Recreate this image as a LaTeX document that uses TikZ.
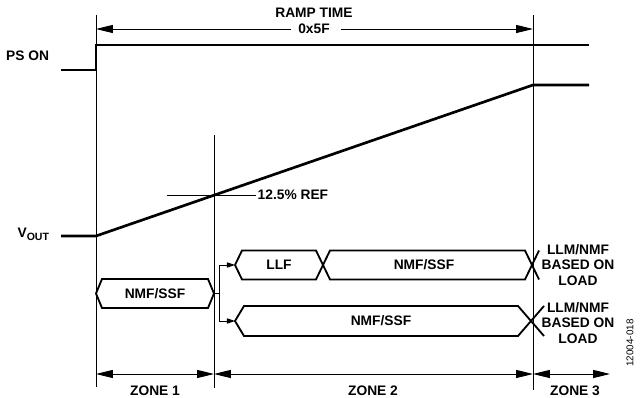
\documentclass[tikz,border=0pt]{standalone}
\usepackage{fontspec}
\setmainfont{Liberation Sans}
\usepackage{tikz}
\usetikzlibrary{arrows.meta}
\usetikzlibrary{calc}
\usetikzlibrary{positioning}

\begin{document}
\begin{tikzpicture}[x=0.025cm, y=-0.025cm,
    font=\bfseries\fontsize{9.8}{10.8}\selectfont,
    guide/.style={line width=0.6pt},
    wave/.style={line width=1.9pt},
    bus/.style={line width=1.3pt, line join=miter},
    span/.style={line width=0.6pt,
      {Triangle[length=0.42cm, width=0.2cm]}-{Triangle[length=0.42cm, width=0.2cm]}},
    ramp/.style={line width=0.6pt, -{Triangle[length=0.42cm, width=0.2cm]}},
    fork/.style={line width=0.6pt, -{Triangle[length=0.2cm, width=0.13cm]}}]

    \useasboundingbox (0,0) rectangle (641,398);

    % zone boundaries
    \draw [guide] (96,15) -- (96,387);
    \draw [guide] (214,135) -- (214,388);
    \draw [guide] (533,15) -- (533,390);

    % ramp time
    \node (ramplbl) at (314,13) {RAMP TIME};
    \node (hexlbl) at (314,29) {0x5F};
    \coordinate (rampstart) at (96,29);
    \coordinate (rampend) at (533,29);
    \draw [ramp] ([xshift=-0.05cm]hexlbl.west) -- (rampstart);
    \draw [ramp] ([xshift=0.15cm]hexlbl.east) -- (rampend);

    % waveforms
    \node [anchor=east] (pson) at (54,56) {PS ON};
    \draw [wave] (61,70) -- (96,70) -- (96,45) -- (589,45);
    \node [anchor=east] (vout) at (54,234)
      {V\raisebox{-0.45ex}{\fontsize{7.5}{8}\selectfont OUT}};
    \draw [wave] (61,236) -- (96,236) -- (533,85) -- (589,85);
    \draw [guide] (167,195) -- (256,195) coordinate (refend);
    \node [anchor=west, inner sep=1pt] (ref) at (refend) {12.5\% REF};

    % zone 1 state
    \draw [bus] (96,293.5) -- (102,279) -- (208,279) -- (214,293.5)
      -- (208,308) -- (102,308) -- cycle;
    \node (nmfa) at (155,293.5) {NMF/SSF};
    \coordinate (z1east) at (214,293.5);

    % zone 2 states, upper path
    \draw [bus] (235,265) -- (242,250.5) -- (316,250.5) -- (330,279.5)
      -- (525,279.5) -- (539,250.5);
    \draw [bus] (539,279.5) -- (525,250.5) -- (330,250.5) -- (316,279.5)
      -- (242,279.5) -- (235,265);
    \node (llf) at (279,265) {LLF};
    \node (nmfb) at (424,265) {NMF/SSF};
    \coordinate (llfwest) at (235,265);

    % zone 2 states, lower path
    \draw [bus] (544,306) -- (518,336) -- (244,336) -- (235,321)
      -- (244,306) -- (518,306) -- (544,336);
    \node (nmfc) at (381,321) {NMF/SSF};
    \coordinate (nmfwest) at (235,321);

    % branches
    \draw [fork] (z1east) -- ++(5,0) |- (llfwest);
    \draw [fork] (z1east) -- ++(5,0) |- (nmfwest);

    % zone 3 states
    \node [align=center] (loada) at (578,265) {LLM/NMF\\BASED ON\\LOAD};
    \node [align=center] (loadb) at (578,323) {LLM/NMF\\BASED ON\\LOAD};

    % zones
    \draw [span] (96,374) -- (214,374);
    \draw [span] (214,374) -- (533,374);
    \draw [span] (533,374) -- (610,374);
    \node (zone1) at (155,391) {ZONE 1};
    \node (zone2) at (373,391) {ZONE 2};
    \node (zone3) at (575,391) {ZONE 3};

    \node [rotate=90, font=\fontsize{7}{8}\selectfont] (figid) at (630,343) {12004-018};

\end{tikzpicture}
\end{document}
